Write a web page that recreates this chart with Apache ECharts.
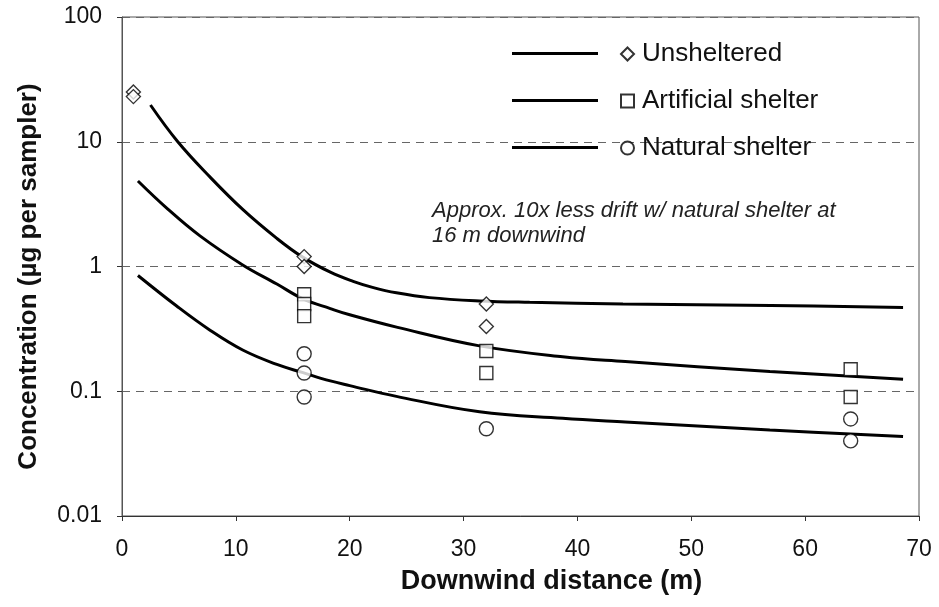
<!DOCTYPE html>
<html>
<head>
<meta charset="utf-8">
<script src="https://cdn.jsdelivr.net/npm/echarts@6/dist/echarts.min.js"></script>
<style>
html,body{margin:0;padding:0;background:#fff;}
#chart{width:939px;height:607px;}
</style>
</head>
<body>
<div id="chart"></div>
<script>
// ---- data ----
const seriesNames = ['Unsheltered', 'Artificial shelter', 'Natural shelter'];

// fitted curves (x in m, y in µg per sampler)
const unshelteredFitX = [2.5, 4.9, 7.7, 10.65, 13.6, 15.8, 18.3, 20.3, 22, 24.1, 27, 31.4, 35.8, 44, 57, 68.6];
const unshelteredFitY = [19.7, 10, 5.25, 2.84, 1.68, 1.2, 0.90, 0.76, 0.68, 0.615, 0.563, 0.53, 0.516, 0.50, 0.487, 0.47];

const artificialFitX = [1.4, 4.0, 6.85, 10.6, 13.6, 15.9, 18.3, 20.0, 24.2, 31.4, 38.7, 44.2, 56.9, 68.6];
const artificialFitY = [4.85, 2.9, 1.76, 1.03, 0.724, 0.55, 0.46, 0.41, 0.325, 0.231, 0.189, 0.173, 0.144, 0.125];

const naturalFitX = [1.4, 4.8, 7.7, 10.6, 13.6, 15.9, 18.3, 20.0, 24.1, 31.4, 38.7, 44.2, 56.9, 68.6];
const naturalFitY = [0.847, 0.482, 0.31, 0.214, 0.164, 0.141, 0.121, 0.111, 0.091, 0.0685, 0.0607, 0.0567, 0.0489, 0.0433];

// observed samples
const unshelteredX = [1, 1, 16, 16, 32, 32];
const unshelteredY = [25, 23, 1.2, 1.0, 0.5, 0.33];
const artificialX = [16, 16, 16, 32, 32, 64, 64];
const artificialY = [0.6, 0.5, 0.4, 0.21, 0.14, 0.15, 0.09];
const naturalX = [16, 16, 16, 32, 64, 64];
const naturalY = [0.2, 0.14, 0.09, 0.05, 0.06, 0.04];

const xTicks = [0, 10, 20, 30, 40, 50, 60, 70];
const yTicks = [0.01, 0.1, 1, 10, 100];

const annotation = 'Approx. 10x less drift w/ natural shelter at\n16 m downwind';
const xTitle = 'Downwind distance (m)';
const yTitle = 'Concentration (µg per sampler)';

// ---- build ----
const zip = (xs, ys) => xs.map((x, i) => [x, ys[i]]);
const FONT = '"Liberation Sans", Arial, sans-serif';

const fitNames = ['fit-u', 'fit-a', 'fit-n'];
const fits = [[unshelteredFitX, unshelteredFitY], [artificialFitX, artificialFitY], [naturalFitX, naturalFitY]];
const obs = [[unshelteredX, unshelteredY, 'diamond', 14], [artificialX, artificialY, 'rect', 13], [naturalX, naturalY, 'circle', 14]];

const series = [];
fits.forEach((f, i) => {
  series.push({
    name: fitNames[i], type: 'line', data: zip(f[0], f[1]),
    showSymbol: false, smooth: 0.4,
    lineStyle: { color: '#000', width: 3 }, itemStyle: { color: '#000' },
    z: 3, silent: true
  });
});
obs.forEach((o, i) => {
  series.push({
    name: seriesNames[i], type: 'scatter', data: zip(o[0], o[1]),
    symbol: o[2], symbolSize: o[3],
    itemStyle: { color: '#fff', borderColor: '#000', borderWidth: 1.4 },
    z: 4, silent: true
  });
});

const chart = echarts.init(document.getElementById('chart'), null, { renderer: 'canvas' });
chart.setOption({
  animation: false,
  backgroundColor: '#fff',
  textStyle: { fontFamily: FONT },
  title: {
    text: annotation, left: 432, top: 198, padding: 0,
    textStyle: { fontFamily: FONT, fontStyle: 'italic', fontWeight: 'normal', fontSize: 22, lineHeight: 25, color: '#222' }
  },
  grid: { left: 122, right: 20, top: 17, bottom: 91, show: true, borderColor: '#555', borderWidth: 1, backgroundColor: 'transparent' },
  legend: [
    {
      data: fitNames, orient: 'vertical', left: 512, top: 52, padding: 0,
      icon: 'rect', itemWidth: 86, itemHeight: 3, itemGap: 44,
      formatter: () => '', selectedMode: false,
      textStyle: { fontSize: 1, lineHeight: 1 }
    },
    {
      data: seriesNames, orient: 'vertical', left: 620, top: 41, padding: 0,
      itemWidth: 13, itemHeight: 13, itemGap: 21, selectedMode: false,
      textStyle: { fontFamily: FONT, fontSize: 26, lineHeight: 26, color: '#111', padding: [0, 0, 0, 3] }
    }
  ],
  xAxis: {
    type: 'value', min: xTicks[0], max: xTicks[xTicks.length - 1], interval: 10,
    name: xTitle, nameLocation: 'middle', nameGap: 52,
    nameTextStyle: { fontFamily: FONT, fontWeight: 'bold', fontSize: 27, color: '#111', padding: [0, 0, 0, 62] },
    axisLine: { lineStyle: { color: '#333', width: 1 } },
    axisTick: { show: true, length: 5, lineStyle: { color: '#333' } },
    axisLabel: { margin: 22, fontSize: 23, color: '#111', fontFamily: FONT },
    splitLine: { show: false }
  },
  yAxis: {
    type: 'log', logBase: 10, min: yTicks[0], max: yTicks[yTicks.length - 1],
    name: yTitle, nameLocation: 'middle', nameGap: 80,
    nameTextStyle: { fontFamily: FONT, fontWeight: 'bold', fontSize: 26, color: '#111', padding: [0, 20, 0, 0] },
    axisLine: { show: true, lineStyle: { color: '#555', width: 1 } },
    axisTick: { show: true, length: 5, lineStyle: { color: '#333' } },
    axisLabel: { margin: 20, fontSize: 23, color: '#111', fontFamily: FONT,
      formatter: v => String(+v.toPrecision(3)) },
    splitLine: { show: true, lineStyle: { color: '#666', type: [8, 6], width: 1 } }
  },
  series: series
});
</script>
</body>
</html>
